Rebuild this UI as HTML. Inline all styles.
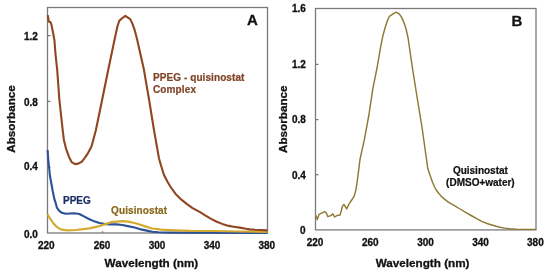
<!DOCTYPE html>
<html><head><meta charset="utf-8"><style>
html,body{margin:0;padding:0;background:#fff;}
body{width:550px;height:279px;overflow:hidden;}
svg{display:block;will-change:transform;}
text{font-family:"Liberation Sans",sans-serif;font-weight:bold;}
</style></head><body>
<svg width="550" height="279" viewBox="0 0 550 279">
<rect width="550" height="279" fill="#fff"/>
<g fill="none" stroke="#7a7a7a" stroke-width="1.3">
<rect x="47.5" y="7.5" width="220.0" height="225.5"/>
<rect x="315.5" y="8.5" width="220.5" height="221.4"/>
<line x1="102.5" y1="233.0" x2="102.5" y2="231.2"/><line x1="157.5" y1="233.0" x2="157.5" y2="231.2"/><line x1="212.5" y1="233.0" x2="212.5" y2="231.2"/>
<line x1="47.5" y1="167.2" x2="50.5" y2="167.2"/><line x1="47.5" y1="101.4" x2="50.5" y2="101.4"/><line x1="47.5" y1="35.6" x2="50.5" y2="35.6"/>
<line x1="315.5" y1="174.7" x2="318.5" y2="174.7"/><line x1="315.5" y1="119.6" x2="318.5" y2="119.6"/><line x1="315.5" y1="64.4" x2="318.5" y2="64.4"/>
</g>
<g fill="none" stroke-linejoin="round" stroke-linecap="butt">
<polyline points="47.6,150.0 48.3,160.0 50.0,176.0 52.9,192.0 54.6,200.0 55.4,202.0 56.9,207.7 59.0,210.6 61.9,212.8 65.5,213.8 69.8,213.5 74.0,213.2 79.4,214.0 83.9,216.4 89.4,219.3 95.0,221.6 99.4,223.0 105.6,224.1 111.1,224.4 116.7,224.4 122.2,225.0 127.8,226.1 135.6,227.8 141.1,229.4 146.7,230.6 152.2,231.7 157.8,232.3 170.0,232.6 267.5,232.9" stroke="#2a5294" stroke-width="2.1"/>
<polyline points="47.5,214.4 50.6,219.4 53.9,223.9 57.2,227.2 60.6,229.4 67.2,230.3 76.0,230.0 89.4,228.3 97.2,226.7 106.0,223.9 111.1,222.2 116.7,221.7 122.2,221.1 127.8,221.6 131.0,222.2 135.6,223.3 141.1,225.0 146.7,226.9 152.2,228.5 157.8,229.2 161.0,229.6 175.0,230.3 190.0,230.8 215.0,231.0 240.0,231.5 267.5,231.8" stroke="#d4aa30" stroke-width="2.2"/>
<polyline points="47.8,15.2 48.8,21.6 50.6,22.3 51.4,24.6 52.2,28.5 53.3,34.0 54.4,40.0 55.6,55.0 57.2,70.0 59.4,100.0 62.8,131.0 63.9,140.0 66.1,148.9 68.9,156.7 71.7,162.2 75.0,164.1 78.3,163.6 81.7,161.8 85.0,157.6 88.3,152.6 91.5,146.5 95.8,130.5 102.0,100.5 108.3,69.5 114.9,38.0 117.5,26.0 119.3,20.8 121.8,18.5 125.3,15.9 130.2,19.1 132.4,23.6 134.7,30.2 136.9,38.5 143.8,69.0 146.3,83.6 148.8,98.0 153.8,129.0 159.0,158.5 161.1,165.8 163.9,174.7 167.2,181.3 170.6,187.0 175.6,193.9 181.1,199.4 186.7,203.9 192.2,207.8 200.0,212.2 205.6,215.6 211.1,218.9 216.7,221.7 222.2,223.9 228.9,225.9 233.6,226.7 241.3,227.9 246.0,228.8 250.0,229.4 255.0,229.8 260.0,230.0 267.5,230.4" stroke="#904620" stroke-width="2.1"/>
<polyline points="315.6,215.0 317.3,219.6 319.0,214.4 321.2,213.3 324.6,211.7 326.2,212.8 327.9,216.7 330.7,215.6 332.9,213.9 334.6,217.0 337.3,215.4 340.1,215.0 342.3,206.7 343.9,204.4 346.7,208.9 349.4,203.3 351.7,200.0 353.9,196.7 355.6,191.1 356.7,185.0 357.8,177.0 360.0,159.4 364.4,139.4 368.9,115.0 372.8,88.9 377.2,67.0 380.6,47.2 382.8,36.1 385.0,28.0 387.2,21.3 389.4,16.3 392.8,14.1 396.1,12.2 399.4,14.1 401.7,17.4 403.9,22.4 406.1,29.1 408.0,37.5 412.5,68.5 417.3,98.5 422.2,128.5 426.4,158.5 427.8,168.6 430.2,175.8 432.5,182.2 434.3,186.6 436.2,190.0 438.5,193.0 440.5,195.4 443.0,197.9 445.5,199.9 448.0,201.8 454.0,205.3 460.0,209.0 465.6,212.3 471.1,215.5 476.7,218.7 482.2,221.6 487.8,223.7 492.0,225.0 496.0,226.2 500.0,227.2 505.0,228.1 510.0,228.7 516.0,229.2 536.0,229.4" stroke="#8e7834" stroke-width="1.45"/>
</g>
<g fill="#111" stroke="#111" stroke-width="0.3" font-size="10">
<text x="37.8" y="238.2" text-anchor="end">0.0</text>
<text x="37.8" y="170.4" text-anchor="end">0.4</text>
<text x="37.8" y="105.5" text-anchor="end">0.8</text>
<text x="37.8" y="39.5" text-anchor="end">1.2</text>
<text x="46.3" y="248.8" text-anchor="middle">220</text>
<text x="102" y="248.8" text-anchor="middle">260</text>
<text x="157" y="248.8" text-anchor="middle">300</text>
<text x="212" y="248.8" text-anchor="middle">340</text>
<text x="266.8" y="248.8" text-anchor="middle">380</text>
<text x="305.5" y="234.0" text-anchor="end">0</text>
<text x="305.9" y="178.8" text-anchor="end">0.4</text>
<text x="305.9" y="123.4" text-anchor="end">0.8</text>
<text x="305.9" y="67.8" text-anchor="end">1.2</text>
<text x="305.9" y="12.0" text-anchor="end">1.6</text>
<text x="315" y="245.6" text-anchor="middle">220</text>
<text x="370.3" y="245.6" text-anchor="middle">260</text>
<text x="425.5" y="245.6" text-anchor="middle">300</text>
<text x="480.6" y="245.6" text-anchor="middle">340</text>
<text x="535.4" y="245.6" text-anchor="middle">380</text>
</g>
<g fill="#111" stroke="#111" stroke-width="0.3" font-size="11.7">
<text x="151.4" y="266.8" text-anchor="middle">Wavelength (nm)</text>
<text x="422.6" y="266.8" text-anchor="middle">Wavelength (nm)</text>
<text transform="translate(15.4,119) rotate(-90)" text-anchor="middle">Absorbance</text>
<text transform="translate(286.7,119.2) rotate(-90)" text-anchor="middle">Absorbance</text>
</g>
<g fill="#111" stroke="#111" stroke-width="0.3" font-size="15">
<text x="252.3" y="25.3" text-anchor="middle">A</text>
<text x="517" y="25.9" text-anchor="middle">B</text>
</g>
<g font-size="10" stroke-width="0.22">
<text x="153" y="81.1" fill="#80462a" stroke="#80462a" letter-spacing="0.08">PPEG - quisinostat</text>
<text x="153" y="92.7" fill="#80462a" stroke="#80462a" letter-spacing="0.12">Complex</text>
<text x="63" y="203.9" fill="#1b3066" stroke="#1b3066">PPEG</text>
<text x="111.1" y="213.6" fill="#8a6a1c" stroke="#8a6a1c" letter-spacing="0.1">Quisinostat</text>
<text x="480.4" y="173.7" fill="#111" stroke="#111" text-anchor="middle">Quisinostat</text>
<text x="480.4" y="186.0" fill="#111" stroke="#111" text-anchor="middle">(DMSO+water)</text>
</g>
</svg>
</body></html>
